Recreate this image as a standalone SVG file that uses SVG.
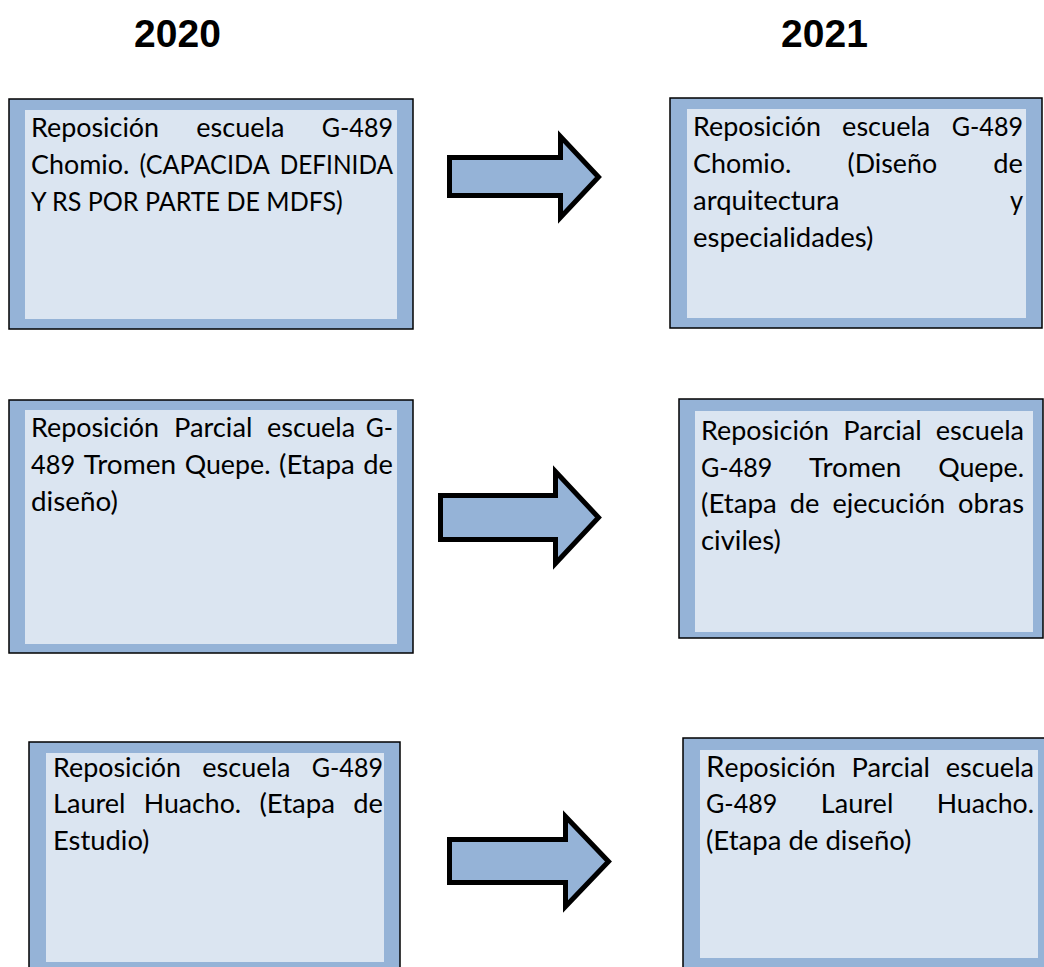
<svg xmlns="http://www.w3.org/2000/svg" width="1044" height="967" viewBox="0 0 1044 967">
<style>
.outer{fill:#95b3d7;stroke:#000;stroke-width:1.5}
.inner{fill:#dbe5f1}
.t{font-family:Lato,"Open Sans",sans-serif;font-size:26.5px;fill:#000}
.title{font-family:"Liberation Sans",Arial,sans-serif;font-size:39px;font-weight:bold;fill:#000;text-anchor:middle}
.arrow{fill:#95b3d7;stroke:#000;stroke-width:5;stroke-linejoin:miter}
</style>
<rect width="1044" height="967" fill="#fff"/>
<text class="title" x="177.5" y="47">2020</text>
<text class="title" x="824.5" y="47">2021</text>

<g id="box-2020-chomio">
<rect class="outer" x="9" y="99" width="404" height="230"/>
<rect class="inner" x="25" y="110" width="372" height="209"/>
<text class="t" x="31" y="136.5" textLength="128.1" lengthAdjust="spacingAndGlyphs">Reposición</text>
<text class="t" x="196.3" y="136.5" textLength="88.2" lengthAdjust="spacingAndGlyphs">escuela</text>
<text class="t" x="321.7" y="136.5" textLength="71.3" lengthAdjust="spacingAndGlyphs">G-489</text>
<text class="t" x="31" y="173.5" textLength="98.4" lengthAdjust="spacingAndGlyphs">Chomio.</text>
<text class="t" x="139.5" y="173.5" textLength="130.2" lengthAdjust="spacingAndGlyphs">(CAPACIDA</text>
<text class="t" x="279.7" y="173.5" textLength="113.3" lengthAdjust="spacingAndGlyphs">DEFINIDA</text>
<text class="t" x="31" y="210.5" textLength="311.7" lengthAdjust="spacingAndGlyphs">Y RS POR PARTE DE MDFS)</text>
</g>

<g id="box-2021-chomio">
<rect class="outer" x="670" y="98" width="372" height="230"/>
<rect class="inner" x="687" y="109" width="339" height="209"/>
<text class="t" x="693" y="136" textLength="128.1" lengthAdjust="spacingAndGlyphs">Reposición</text>
<text class="t" x="842.1" y="136" textLength="88.2" lengthAdjust="spacingAndGlyphs">escuela</text>
<text class="t" x="951.7" y="136" textLength="71.3" lengthAdjust="spacingAndGlyphs">G-489</text>
<text class="t" x="693" y="173" textLength="98.4" lengthAdjust="spacingAndGlyphs">Chomio.</text>
<text class="t" x="847.5" y="173" textLength="89.6" lengthAdjust="spacingAndGlyphs">(Diseño</text>
<text class="t" x="993.3" y="173" textLength="29.7" lengthAdjust="spacingAndGlyphs">de</text>
<text class="t" x="693" y="210" textLength="146.5" lengthAdjust="spacingAndGlyphs">arquitectura</text>
<text class="t" x="1009.9" y="210" textLength="13.1" lengthAdjust="spacingAndGlyphs">y</text>
<text class="t" x="693" y="247" textLength="180.4" lengthAdjust="spacingAndGlyphs">especialidades)</text>
</g>

<g id="box-2020-tromen">
<rect class="outer" x="9" y="400" width="404" height="253"/>
<rect class="inner" x="25" y="410" width="372" height="234"/>
<text class="t" x="31" y="436.5" textLength="128.1" lengthAdjust="spacingAndGlyphs">Reposición</text>
<text class="t" x="174" y="436.5" textLength="78.4" lengthAdjust="spacingAndGlyphs">Parcial</text>
<text class="t" x="267" y="436.5" textLength="88.2" lengthAdjust="spacingAndGlyphs">escuela</text>
<text class="t" x="365.8" y="436.5" textLength="27.2" lengthAdjust="spacingAndGlyphs">G-</text>
<text class="t" x="31" y="473.5" textLength="44.1" lengthAdjust="spacingAndGlyphs">489</text>
<text class="t" x="83.7" y="473.5" textLength="92.4" lengthAdjust="spacingAndGlyphs">Tromen</text>
<text class="t" x="184.7" y="473.5" textLength="85.8" lengthAdjust="spacingAndGlyphs">Quepe.</text>
<text class="t" x="279.1" y="473.5" textLength="75.7" lengthAdjust="spacingAndGlyphs">(Etapa</text>
<text class="t" x="363.3" y="473.5" textLength="29.7" lengthAdjust="spacingAndGlyphs">de</text>
<text class="t" x="31" y="510.5" textLength="86.9" lengthAdjust="spacingAndGlyphs">diseño)</text>
</g>

<g id="box-2021-tromen">
<rect class="outer" x="679" y="399" width="364" height="239"/>
<rect class="inner" x="695" y="411" width="338" height="221"/>
<text class="t" x="701" y="440" textLength="128.1" lengthAdjust="spacingAndGlyphs">Reposición</text>
<text class="t" x="843.3" y="440" textLength="78.4" lengthAdjust="spacingAndGlyphs">Parcial</text>
<text class="t" x="935.8" y="440" textLength="88.2" lengthAdjust="spacingAndGlyphs">escuela</text>
<text class="t" x="701" y="476.5" textLength="71.3" lengthAdjust="spacingAndGlyphs">G-489</text>
<text class="t" x="809" y="476.5" textLength="92.4" lengthAdjust="spacingAndGlyphs">Tromen</text>
<text class="t" x="938.2" y="476.5" textLength="85.8" lengthAdjust="spacingAndGlyphs">Quepe.</text>
<text class="t" x="701" y="513" textLength="75.7" lengthAdjust="spacingAndGlyphs">(Etapa</text>
<text class="t" x="789.7" y="513" textLength="29.7" lengthAdjust="spacingAndGlyphs">de</text>
<text class="t" x="832.4" y="513" textLength="112.7" lengthAdjust="spacingAndGlyphs">ejecución</text>
<text class="t" x="958.1" y="513" textLength="65.9" lengthAdjust="spacingAndGlyphs">obras</text>
<text class="t" x="701" y="549.5" textLength="79.9" lengthAdjust="spacingAndGlyphs">civiles)</text>
</g>

<g id="box-2020-laurel">
<rect class="outer" x="29" y="742" width="371" height="240"/>
<rect class="inner" x="46" y="753" width="338" height="209"/>
<text class="t" x="53" y="776.5" textLength="128.1" lengthAdjust="spacingAndGlyphs">Reposición</text>
<text class="t" x="202.3" y="776.5" textLength="88.2" lengthAdjust="spacingAndGlyphs">escuela</text>
<text class="t" x="311.7" y="776.5" textLength="71.3" lengthAdjust="spacingAndGlyphs">G-489</text>
<text class="t" x="53" y="813" textLength="72.5" lengthAdjust="spacingAndGlyphs">Laurel</text>
<text class="t" x="143.8" y="813" textLength="97.3" lengthAdjust="spacingAndGlyphs">Huacho.</text>
<text class="t" x="259.4" y="813" textLength="75.7" lengthAdjust="spacingAndGlyphs">(Etapa</text>
<text class="t" x="353.3" y="813" textLength="29.7" lengthAdjust="spacingAndGlyphs">de</text>
<text class="t" x="53" y="850" textLength="96.4" lengthAdjust="spacingAndGlyphs">Estudio)</text>
</g>

<g id="box-2021-laurel">
<rect class="outer" x="683" y="738" width="370" height="240"/>
<rect class="inner" x="700" y="750" width="338" height="208"/>
<text class="t" x="706" y="776.5" textLength="129.7" lengthAdjust="spacingAndGlyphs"><tspan font-size="29.5">R</tspan>eposición</text>
<text class="t" x="851.6" y="776.5" textLength="78.4" lengthAdjust="spacingAndGlyphs">Parcial</text>
<text class="t" x="945.8" y="776.5" textLength="88.2" lengthAdjust="spacingAndGlyphs">escuela</text>
<text class="t" x="706" y="813" textLength="71.3" lengthAdjust="spacingAndGlyphs">G-489</text>
<text class="t" x="820.8" y="813" textLength="72.5" lengthAdjust="spacingAndGlyphs">Laurel</text>
<text class="t" x="936.7" y="813" textLength="97.3" lengthAdjust="spacingAndGlyphs">Huacho.</text>
<text class="t" x="706" y="850" textLength="205.4" lengthAdjust="spacingAndGlyphs">(Etapa de diseño)</text>
</g>

<g id="connectors">
<polygon class="arrow" points="449.5,157.5 560.5,157.5 560.5,136.5 598.5,177 560.5,217.5 560.5,195.5 449.5,195.5"/>
<polygon class="arrow" points="440.5,495.5 555.5,495.5 555.5,471.5 598.5,517.5 555.5,563.5 555.5,539.5 440.5,539.5"/>
<polygon class="arrow" points="449.5,839.5 565.5,839.5 565.5,816.5 608.5,861.5 565.5,906.5 565.5,882.5 449.5,882.5"/>
</g>
</svg>
